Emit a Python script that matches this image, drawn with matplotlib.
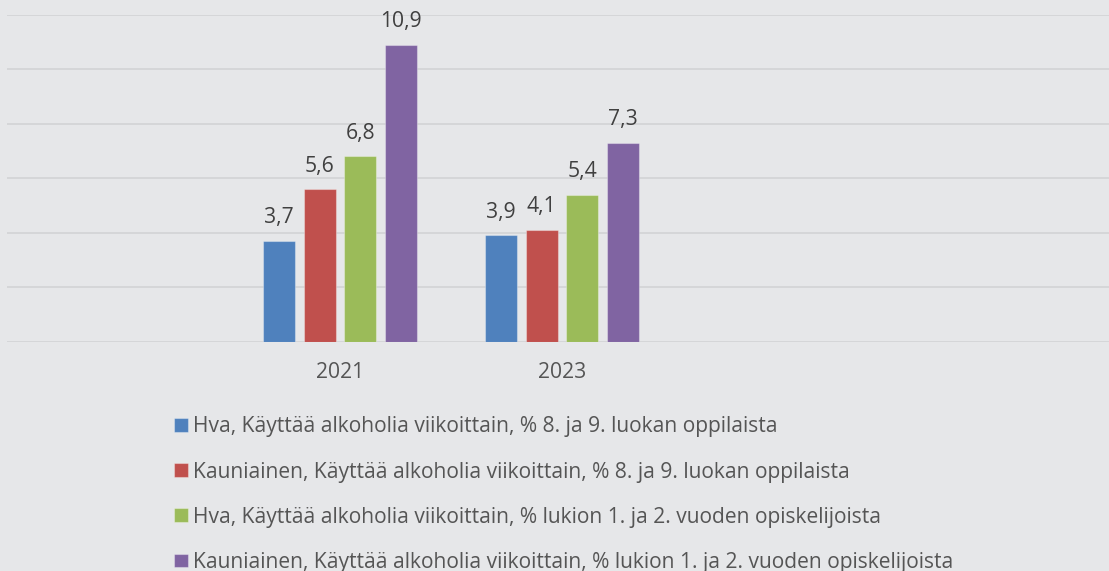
import numpy as np
import matplotlib.pyplot as plt

plt.rcParams['font.family'] = ['Open Sans', 'DejaVu Sans']

years = ['2021', '2023']
series = [
    'Hva, Käyttää alkoholia viikoittain, % 8. ja 9. luokan oppilaista',
    'Kauniainen, Käyttää alkoholia viikoittain, % 8. ja 9. luokan oppilaista',
    'Hva, Käyttää alkoholia viikoittain, % lukion 1. ja 2. vuoden opiskelijoista',
    'Kauniainen, Käyttää alkoholia viikoittain, % lukion 1. ja 2. vuoden opiskelijoista',
]
hva_8_9 = [3.7, 3.9]
kau_8_9 = [5.6, 4.1]
hva_lukio = [6.8, 5.4]
kau_lukio = [10.9, 7.3]
values = [hva_8_9, kau_8_9, hva_lukio, kau_lukio]
colors = ['#4f81bd', '#c0504d', '#9bbb59', '#8064a2']

bg = '#e6e7e9'
dark = '#404040'
grey = '#555555'

fig = plt.figure(figsize=(11.09, 5.71), dpi=100)
fig.patch.set_facecolor(bg)
ax = fig.add_axes([7/1109, 1 - 341.5/571, 1102/1109, 326.5/571])
ax.set_facecolor(bg)

x = np.arange(len(years))
w = 0.144
step = 0.1825
bars = []
for i, (vals, c) in enumerate(zip(values, colors)):
    pos = x + (i - 1.5) * step
    b = ax.bar(pos, vals, w, color=c, edgecolor='#ffffff55', linewidth=0.8,
               label=series[i], zorder=3)
    bars.append(b)
    for p, v in zip(pos, vals):
        ax.annotate(f'{v:.1f}'.replace('.', ','), (p, v), xytext=(0, 9),
                    textcoords='offset points', ha='center', va='bottom',
                    fontsize=15.2, color=dark)

ax.set_ylim(0, 12)
ax.set_xlim(-1.5, 3.464)
ax.set_yticks(np.arange(0, 13, 2))
ax.yaxis.grid(True, color='#d4d5d7', linewidth=1.3, zorder=0)
ax.tick_params(axis='y', left=False, labelleft=False)
ax.set_xticks(x)
ax.set_xticklabels(years, fontsize=15.2, color=grey)
ax.tick_params(axis='x', length=0, pad=15)
for s in ax.spines.values():
    s.set_visible(False)

fig.legend(handles=bars, labels=series, loc='upper left',
           bbox_to_anchor=(166/1109, 1 - 408/571), frameon=False,
           fontsize=15.1, labelcolor=grey, handlelength=0.66, handleheight=0.62,
           handletextpad=0.25, labelspacing=1.15, borderaxespad=0)

fig.savefig('out.png', dpi=100, facecolor=bg)
